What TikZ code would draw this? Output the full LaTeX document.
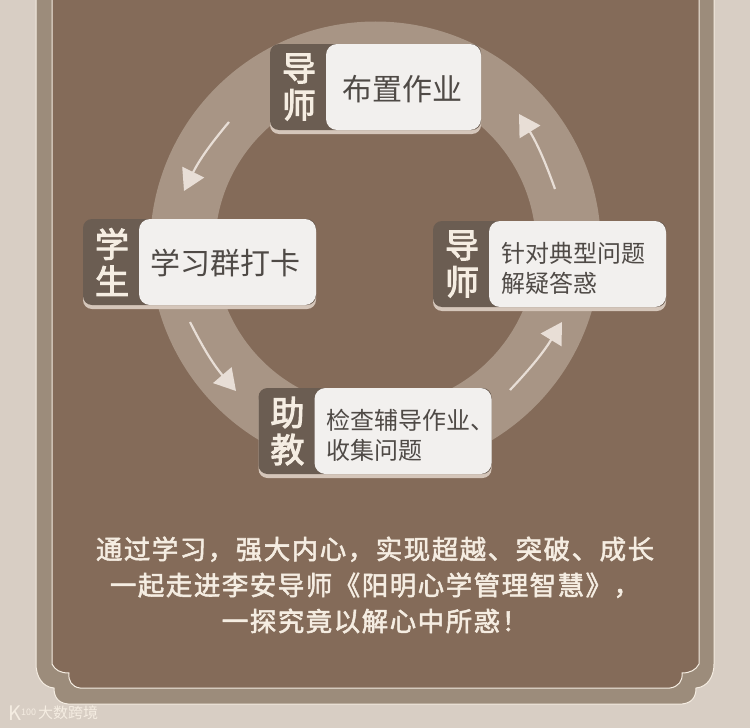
\documentclass[tikz,border=0pt]{standalone}
\usepackage{fontspec}
\setmainfont{Noto Sans CJK SC}
\newfontfamily\tagfont[FakeBold=3]{Noto Sans CJK SC}
\newfontfamily\closefont[FakeBold=2, LetterSpace=5.6]{Noto Sans CJK SC}
\usetikzlibrary{arrows.meta, positioning}
\definecolor{pagebg}{HTML}{D8CEC4}
\definecolor{bandbg}{HTML}{9C8C7B}
\definecolor{panelbg}{HTML}{846B59}
\definecolor{ringbg}{HTML}{A89585}
\definecolor{tagbg}{HTML}{6B5D52}
\definecolor{cardbg}{HTML}{F2F0EE}
\definecolor{cardedge}{HTML}{D5C6BA}
\definecolor{inktext}{HTML}{4F4A46}
\definecolor{creamtext}{HTML}{F5EDE2}
\definecolor{flowline}{HTML}{E8DED6}

\begin{document}
\begin{tikzpicture}[
        x=1pt, y=-1pt,
        ring/.style={draw=ringbg, line width=65pt},
        plate/.style={rectangle, fill=tagbg, rounded corners=9pt, minimum width=233pt, minimum height=86pt, inner xsep=12pt, inner ysep=0pt, text width=209pt, align=left, text=creamtext, font=\fontsize{34}{37}\tagfont},
        edge/.style={rectangle, fill=cardedge, rounded corners=9pt, minimum width=233pt, minimum height=86pt, inner sep=0pt},
        card/.style={rectangle, fill=cardbg, rounded corners=11pt, minimum width=177pt, minimum height=86pt, inner sep=0pt},
        bigtext/.style={inner sep=0pt, text=inktext, font=\fontsize{30}{32}\selectfont},
        smalltext/.style={inner sep=0pt, text=inktext, align=left, anchor=west, font=\fontsize{24}{30}\selectfont},
        flow/.style={-{Triangle[length=21pt, width=24pt, fill=flowline]}, draw=flowline, line width=2.2pt},
        frameline/.style={draw=creamtext, line width=1pt}
    ]
    \useasboundingbox (0,0) rectangle (750,728);
    \fill[pagebg] (0,0) rectangle (750,728);

    % Frame
    \path[frameline, fill=bandbg] (36,-2) -- (36,664) .. controls (36,676) and (42,687) .. (54,688)
        .. controls (54,697) and (58,703) .. (68,704) -- (682,704)
        .. controls (692,703) and (696,697) .. (696,688)
        .. controls (708,687) and (714,676) .. (714,664) -- (714,-2) -- cycle;
    \path[frameline, fill=panelbg] (52,-2) -- (52,664) .. controls (55,670) and (60,673) .. (69,673)
        .. controls (68,681) and (72,687) .. (80,688) -- (670,688)
        .. controls (678,687) and (683,681) .. (682,673)
        .. controls (690,673) and (696,670) .. (699,664) -- (699,-2) -- cycle;

    % Ring
    \draw[ring] (375.5,247) circle [radius=193pt];

    % Nodes
    \node[edge, minimum width=211pt] at (375.5,91) {};
    \node[plate, minimum width=211pt, text width=187pt] (tutortop) at (375.5,87) {导\\师};
    \node[card, anchor=east, minimum width=155pt] (assign) at (tutortop.east) {};
    \node[bigtext, xshift=-1.5pt, yshift=-2pt] (assigntext) at (assign) {布置作业};

    \node[edge] at (199.5,266) {};
    \node[plate] (student) at (199.5,262) {学\\生};
    \node[card, anchor=east] (checkin) at (student.east) {};
    \node[bigtext, xshift=-2pt, yshift=-1pt] (checkintext) at (checkin) {学习群打卡};

    \node[edge] at (549.5,268) {};
    \node[plate] (tutorside) at (549.5,264) {导\\师};
    \node[card, anchor=east] (answer) at (tutorside.east) {};
    \node[smalltext, xshift=12pt, yshift=-4pt] (answertext) at (answer.west) {针对典型问题\\解疑答惑};

    \node[edge] at (375,435) {};
    \node[plate] (helper) at (375,431) {助\\教};
    \node[card, anchor=east] (review) at (helper.east) {};
    \node[smalltext, xshift=12pt, yshift=-4pt] (reviewtext) at (review.west) {检查辅导作业、\\收集问题};

    % Arrows
    \coordinate (flowa) at (229,122);
    \coordinate (flowb) at (184,191);
    \coordinate (flowc) at (190,322);
    \coordinate (flowd) at (236,391);
    \coordinate (flowe) at (510,390);
    \coordinate (flowf) at (562,322);
    \coordinate (flowg) at (555,189);
    \coordinate (flowh) at (519,114);
    \draw[flow] (flowa) to[bend right=7] (flowb);
    \draw[flow] (flowc) to[bend right=7] (flowd);
    \draw[flow] (flowe) to[bend right=6] (flowf);
    \draw[flow] (flowg) to[bend right=6] (flowh);

    % Bottom text
    \node[align=center, text=creamtext, font=\fontsize{26.5}{36}\closefont] (closing) at (375,585) {通过学习，强大内心，实现超越、突破、成长\\一起走进李安导师《阳明心学管理智慧》，\\一探究竟以解心中所惑！};

    % Watermark
    \node[anchor=west, inner sep=0pt, text=creamtext, font=\fontsize{20}{20}\selectfont] (mark) at (8,713) {K\raisebox{5pt}{\fontsize{9}{9}\selectfont 100}};
    \node[inner sep=0pt, text=creamtext, font=\fontsize{15}{15}\selectfont] (markname) at (68,713) {大数跨境};

    \end{tikzpicture}
\end{document}
